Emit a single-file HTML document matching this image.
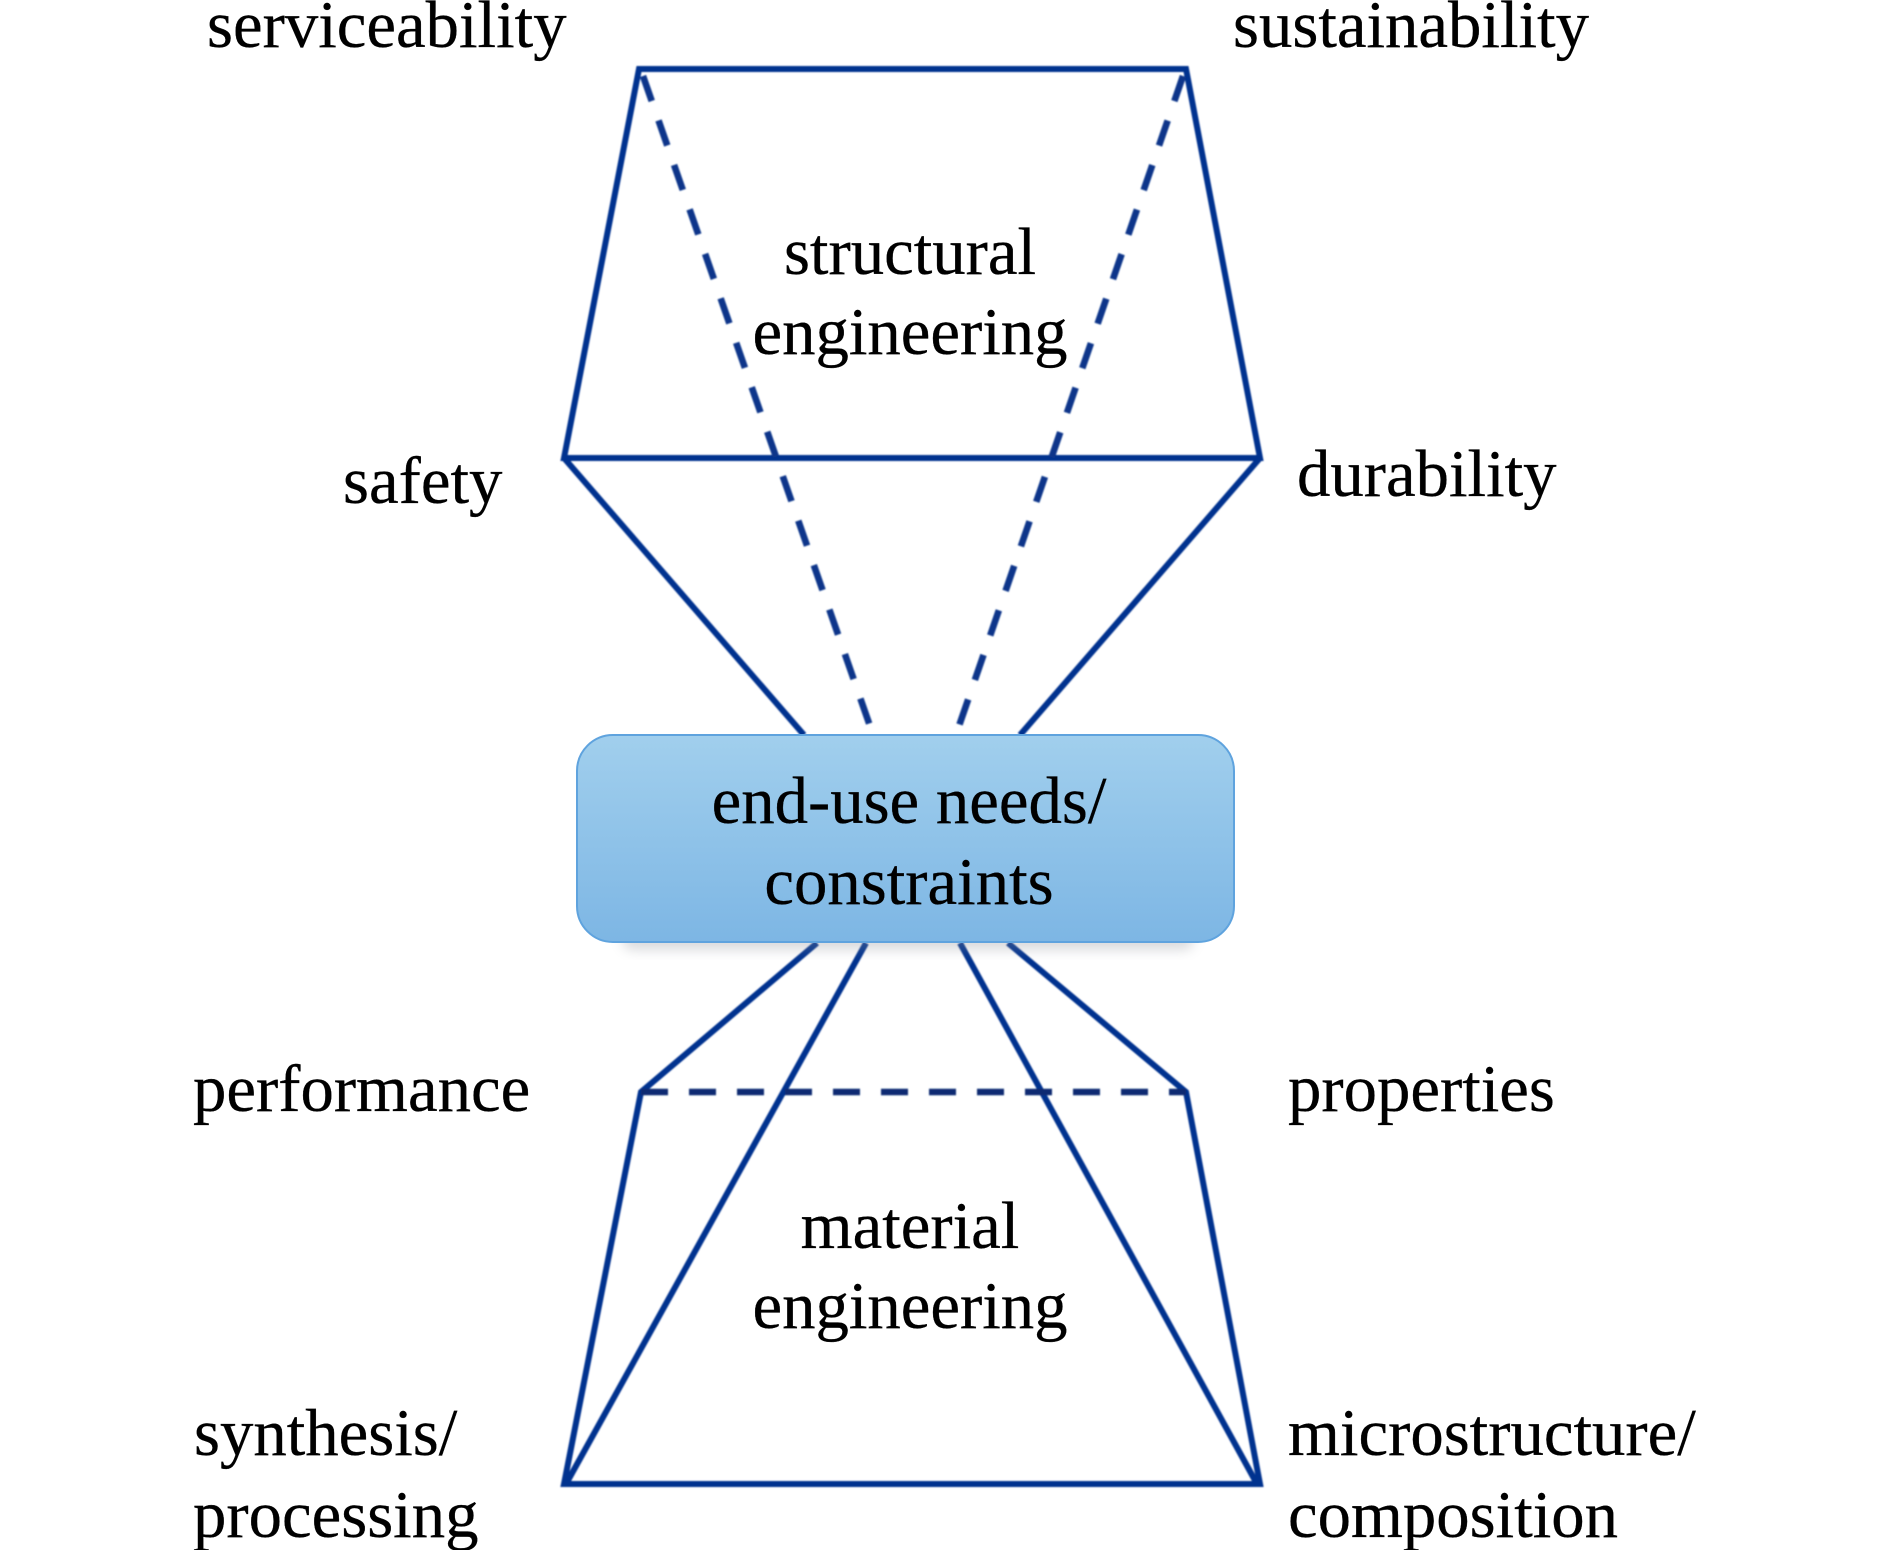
<!DOCTYPE html>
<html>
<head>
<meta charset="utf-8">
<style>
html,body{margin:0;padding:0;background:#fff;}
svg{display:block;}
text{font-family:"Liberation Serif",serif;font-size:66.75px;fill:#000;stroke:#000;stroke-width:.3px;}
.s{stroke:#06318f;stroke-width:6;fill:none;stroke-linecap:butt;stroke-linejoin:miter;}
.d{stroke:#08348a;stroke-width:6.6;fill:none;stroke-dasharray:26.5 20.6;}
</style>
</head>
<body>
<svg width="1890" height="1550" viewBox="0 0 1890 1550" xmlns="http://www.w3.org/2000/svg">
<defs>
<linearGradient id="g" x1="0" y1="0" x2="0" y2="1">
<stop offset="0" stop-color="#a1cfed"/>
<stop offset="1" stop-color="#7db6e4"/>
</linearGradient>
<filter id="b" x="-10%" y="-50%" width="120%" height="200%"><feGaussianBlur stdDeviation="6"/></filter>
<filter id="soft" x="-5%" y="-5%" width="110%" height="110%"><feGaussianBlur stdDeviation="0.7"/></filter>
</defs>
<g filter="url(#soft)">
<path class="s" d="M639 69H1186L1260 458H564Z"/>
<path class="s" d="M564 458L804 735M1260 458L1020 735"/>
<path class="d" d="M643 76L870 726"/>
<path class="d" d="M1183 76L959 726"/>
<path class="s" d="M817 943L641 1092L564 1484H1260L1186 1092L1008 943"/>
<path class="s" d="M866 943L566 1484M960 943L1257 1484"/>
<path class="d" d="M641 1092H1186" style="stroke:#0a2a72;stroke-dasharray:27 21"/>
</g>
<rect x="622" y="930" width="572" height="20" rx="12" fill="#8a8f96" opacity=".32" filter="url(#b)"/>
<rect x="577" y="735" width="657" height="207" rx="36" fill="url(#g)" stroke="#5fa3de" stroke-width="2"/>
<text x="207" y="47">serviceability</text>
<text x="1233" y="47">sustainability</text>
<text x="343" y="503">safety</text>
<text x="1297" y="496">durability</text>
<text x="910" y="274" text-anchor="middle">structural</text>
<text x="910" y="354" text-anchor="middle">engineering</text>
<text x="909" y="823" text-anchor="middle">end-use needs/</text>
<text x="909" y="904" text-anchor="middle">constraints</text>
<text x="193" y="1111">performance</text>
<text x="1288" y="1111">properties</text>
<text x="910" y="1248" text-anchor="middle">material</text>
<text x="910" y="1328" text-anchor="middle">engineering</text>
<text x="194" y="1455">synthesis/</text>
<text x="193" y="1537">processing</text>
<text x="1288" y="1455">microstructure/</text>
<text x="1288" y="1537">composition</text>
</svg>
</body>
</html>
